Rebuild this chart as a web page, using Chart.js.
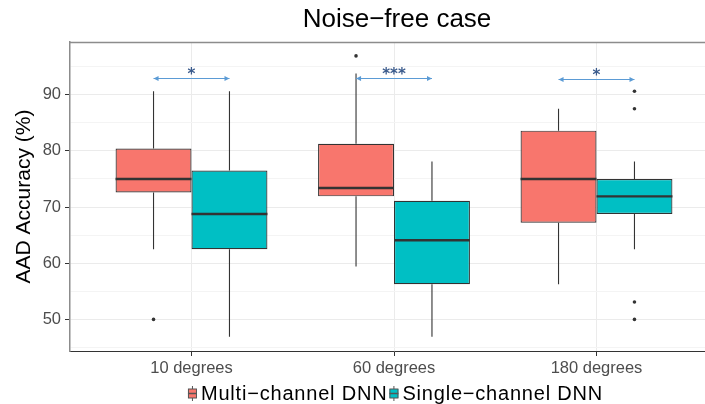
<!DOCTYPE html>
<html><head><meta charset="utf-8">
<script src="https://cdn.jsdelivr.net/npm/chart.js@4"></script>
<style>html,body{margin:0;padding:0;overflow:hidden;background:#fff;width:705px;height:404px}canvas{display:block}</style>
</head><body><canvas id="c" width="725" height="404"></canvas>
<script>
const chartTitle = 'Noise−free case';
const yTitle = 'AAD Accuracy (%)';
const categories = ['10 degrees', '60 degrees', '180 degrees'];
const seriesNames = ['Multi−channel DNN', 'Single−channel DNN'];
const seriesColors = ['#F8766D', '#00BFC4'];

const multiLow  = [62.5, 59.4, 56.25];
const multiQ1   = [72.6, 71.9, 67.2];
const multiMed  = [75.0, 73.4, 75.0];
const multiQ3   = [80.4, 81.25, 83.6];
const multiHigh = [90.6, 93.75, 87.5];
const multiOut  = [[50.0], [96.9], []];

const singleLow  = [46.9, 46.9, 62.5];
const singleQ1   = [62.5, 56.25, 68.75];
const singleMed  = [68.75, 64.1, 71.9];
const singleQ3   = [76.5, 71.1, 75.0];
const singleHigh = [90.6, 78.1, 78.1];
const singleOut  = [[], [], [90.6, 87.5, 53.1, 50.0]];

const yMajorTicks = [50, 60, 70, 80, 90];
const yMinorTicks = [45, 55, 65, 75, 85, 95];
const sigLevel = [93.0, 93.0, 92.8];
const sigLabel = ['*', '***', '*'];

const FONT = "'Liberation Sans', Arial, Helvetica, sans-serif";
Chart.defaults.font.family = FONT;

const stats = [
  {low: multiLow, q1: multiQ1, med: multiMed, q3: multiQ3, high: multiHigh, out: multiOut},
  {low: singleLow, q1: singleQ1, med: singleMed, q3: singleQ3, high: singleHigh, out: singleOut}
];

const datasets = stats.map((s, d) => ({
  label: seriesNames[d],
  data: categories.map((c, i) => ({x: i + 1, y: [s.q1[i], s.q3[i]]})),
  backgroundColor: seriesColors[d],
  borderColor: '#333333',
  borderWidth: 1.2,
  borderSkipped: false,
  categoryPercentage: 0.75,
  barPercentage: 1.0
}));

const boxPlugin = {
  id: 'boxExtras',
  beforeDatasetsDraw(chart) {
    const ctx = chart.ctx, ys = chart.scales.y;
    ctx.save();
    ctx.strokeStyle = '#333333';
    ctx.lineWidth = 1.1;
    stats.forEach((s, d) => {
      const meta = chart.getDatasetMeta(d);
      categories.forEach((c, i) => {
        const el = meta.data[i];
        ctx.beginPath();
        ctx.moveTo(el.x, ys.getPixelForValue(s.high[i]));
        ctx.lineTo(el.x, ys.getPixelForValue(s.q3[i]));
        ctx.moveTo(el.x, ys.getPixelForValue(s.q1[i]));
        ctx.lineTo(el.x, ys.getPixelForValue(s.low[i]));
        ctx.stroke();
      });
    });
    ctx.restore();
  },
  afterDatasetsDraw(chart) {
    const ctx = chart.ctx, ys = chart.scales.y, area = chart.chartArea;
    ctx.save();
    // medians and outliers
    stats.forEach((s, d) => {
      const meta = chart.getDatasetMeta(d);
      categories.forEach((c, i) => {
        const el = meta.data[i];
        const y = ys.getPixelForValue(s.med[i]);
        ctx.strokeStyle = '#333333';
        ctx.lineWidth = 2.4;
        ctx.beginPath();
        ctx.moveTo(el.x - el.width / 2, y);
        ctx.lineTo(el.x + el.width / 2, y);
        ctx.stroke();
        ctx.fillStyle = '#333333';
        s.out[i].forEach(v => {
          ctx.beginPath();
          ctx.arc(el.x, ys.getPixelForValue(v), 1.8, 0, Math.PI * 2);
          ctx.fill();
        });
      });
    });
    // significance brackets
    const m0 = chart.getDatasetMeta(0), m1 = chart.getDatasetMeta(1);
    categories.forEach((c, i) => {
      const x0 = m0.data[i].x, x1 = m1.data[i].x;
      const y = Math.round(ys.getPixelForValue(sigLevel[i])) + 0.5;
      ctx.strokeStyle = '#5B9BD5';
      ctx.fillStyle = '#5B9BD5';
      ctx.lineWidth = 1;
      ctx.beginPath();
      ctx.moveTo(x0, y); ctx.lineTo(x1, y); ctx.stroke();
      ctx.beginPath();
      ctx.moveTo(x0, y); ctx.lineTo(x0 + 5, y - 2.5); ctx.lineTo(x0 + 5, y + 2.5); ctx.closePath(); ctx.fill();
      ctx.beginPath();
      ctx.moveTo(x1, y); ctx.lineTo(x1 - 5, y - 2.5); ctx.lineTo(x1 - 5, y + 2.5); ctx.closePath(); ctx.fill();
      ctx.fillStyle = '#3A5A8C';
      ctx.font = "bold 15px 'DejaVu Sans', sans-serif";
      ctx.textAlign = 'center';
      ctx.textBaseline = 'middle';
      ctx.fillText(sigLabel[i], (x0 + x1) / 2, y - 3);
    });
    ctx.restore();
  },
  afterDraw(chart) {
    const ctx = chart.ctx, area = chart.chartArea;
    ctx.save();
    // top border
    ctx.strokeStyle = '#8c8c8c';
    ctx.lineWidth = 1.5;
    ctx.beginPath();
    ctx.moveTo(area.left, area.top + 0.5);
    ctx.lineTo(area.right, area.top + 0.5);
    ctx.stroke();
    // title
    ctx.fillStyle = '#000000';
    ctx.font = '26px ' + FONT;
    ctx.textAlign = 'center';
    ctx.textBaseline = 'middle';
    ctx.fillText(chartTitle, (area.left + area.right) / 2 + 3, 20);
    // y title
    ctx.save();
    ctx.translate(24, (area.top + area.bottom) / 2);
    ctx.rotate(-Math.PI / 2);
    ctx.font = '21px ' + FONT;
    ctx.fillText(yTitle, 0, 0);
    ctx.restore();
    // legend
    ctx.font = '20px ' + FONT;
    if ('letterSpacing' in ctx) ctx.letterSpacing = '0.8px';
    const w = seriesNames.map(n => ctx.measureText(n).width);
    const keyW = 9, gap1 = 4, gap2 = 2;
    const total = keyW + gap1 + w[0] + gap2 + keyW + gap1 + w[1];
    let x = 395.5 - total / 2;
    const cy = 393.5;
    seriesNames.forEach((n, d) => {
      ctx.strokeStyle = '#555555';
      ctx.lineWidth = 1;
      ctx.beginPath();
      ctx.moveTo(x + keyW / 2, cy - 7.5); ctx.lineTo(x + keyW / 2, cy + 7.5); ctx.stroke();
      ctx.fillStyle = seriesColors[d];
      ctx.fillRect(x, cy - 4.5, keyW, 9);
      ctx.strokeRect(x + 0.5, cy - 4.5, keyW - 1, 9);
      ctx.lineWidth = 1.5;
      ctx.beginPath();
      ctx.moveTo(x, cy); ctx.lineTo(x + keyW, cy); ctx.stroke();
      x += keyW + gap1;
      ctx.fillStyle = '#000000';
      ctx.textAlign = 'left';
      ctx.textBaseline = 'middle';
      ctx.fillText(n, x, cy + 1);
      x += w[d] + gap2;
    });
    ctx.restore();
  }
};

new Chart(document.getElementById('c'), {
  type: 'bar',
  data: {datasets},
  options: {
    responsive: false,
    animation: false,
    layout: {padding: {left: 0, right: 7, top: 42, bottom: 0}},
    plugins: {legend: {display: false}, title: {display: false}, tooltip: {enabled: false}},
    scales: {
      x: {
        type: 'linear',
        min: 0.4, max: 3.6,
        offset: false,
        grid: {offset: false, color: '#ebebeb', lineWidth: 1, tickColor: '#333333', tickLength: 5},
        border: {display: true, color: '#333333', width: 1},
        afterBuildTicks: s => { s.ticks = categories.map((c, i) => ({value: i + 1})); },
        afterFit: s => { s.height = 53; },
        ticks: {
          color: '#4d4d4d', font: {size: 16.5}, padding: 3, maxRotation: 0, autoSkip: false,
          callback: v => categories[v - 1]
        }
      },
      y: {
        type: 'linear',
        min: 44.375, max: 99.375,
        beginAtZero: false,
        grid: {
          color: c => yMajorTicks.includes(c.tick && c.tick.value) ? '#ebebeb' : '#f4f4f4',
          tickColor: c => yMajorTicks.includes(c.tick && c.tick.value) ? '#333333' : 'rgba(0,0,0,0)',
          lineWidth: 1, tickLength: 5
        },
        border: {display: true, color: '#8c8c8c', width: 1.5},
        afterBuildTicks: s => { s.ticks = yMinorTicks.concat(yMajorTicks).sort((a, b) => a - b).map(v => ({value: v})); },
        afterFit: s => { s.width = 70; },
        ticks: {
          color: '#4d4d4d', font: {size: 16.5}, padding: 4,
          callback: v => yMajorTicks.includes(v) ? String(v) : ''
        }
      }
    }
  },
  plugins: [boxPlugin]
});
</script>
</body></html>
